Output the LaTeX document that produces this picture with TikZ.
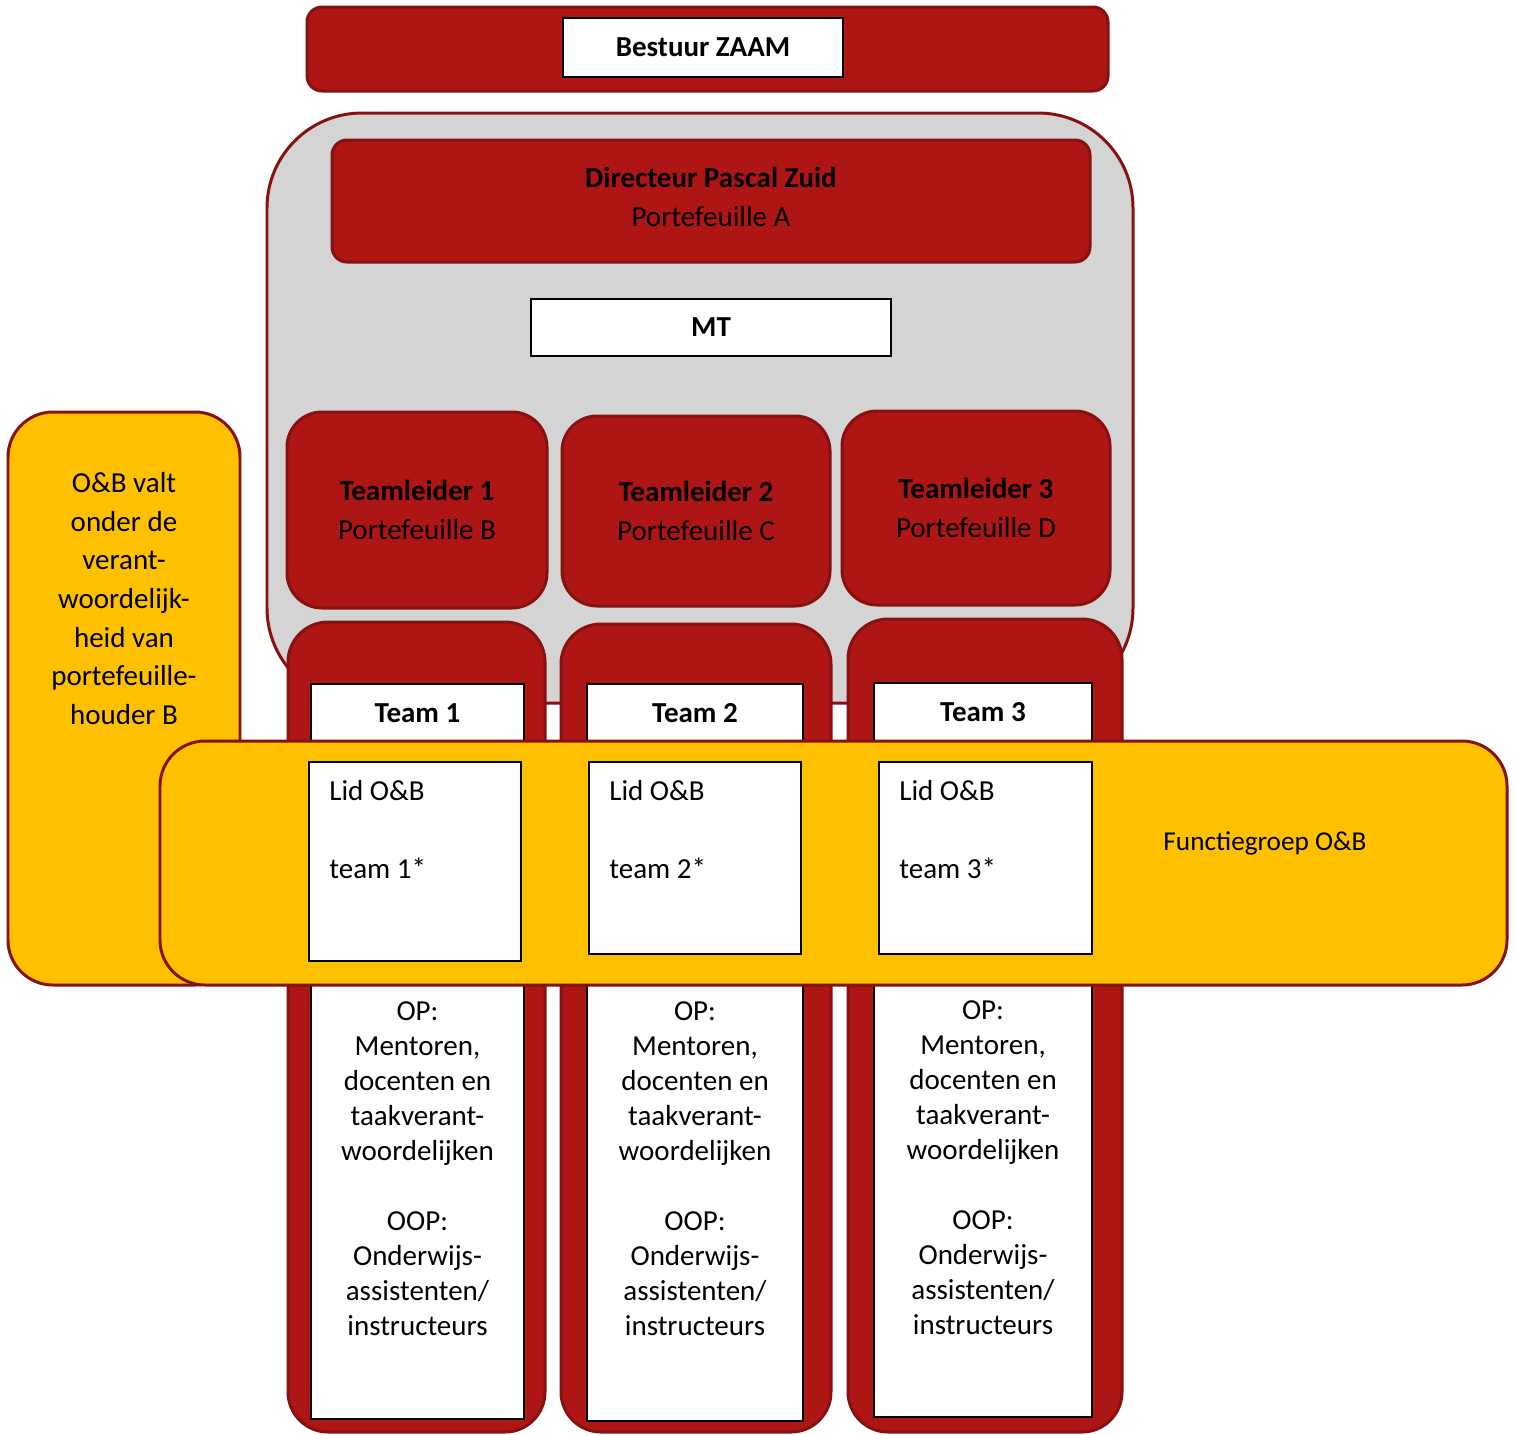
\documentclass[tikz,border=0pt]{standalone}
\usepackage{fontspec}
\setmainfont{Carlito}
\usetikzlibrary{positioning}

\definecolor{zaamred}{RGB}{174,21,21}
\definecolor{zaamdark}{RGB}{135,17,17}
\definecolor{zaamgold}{RGB}{255,192,0}
\definecolor{zaamgrey}{RGB}{212,212,212}

\tikzset{
  every node/.style={font=\fontsize{16.5pt}{22pt}\selectfont, inner sep=0pt, align=center},
  redbox/.style={draw=zaamdark, line width=1.7pt, fill=zaamred, rounded corners=0.3cm},
  goldbox/.style={draw=zaamdark, line width=1.7pt, fill=zaamgold, rounded corners=0.9cm},
  whitebox/.style={draw=black, line width=1.1pt, fill=white},
  leader/.style={redbox, rounded corners=0.7cm},
  column/.style={redbox, rounded corners=0.8cm},
  listtext/.style={font=\fontsize{16.5pt}{19.9pt}\selectfont},
  lidtext/.style={align=left, anchor=north west, font=\fontsize{16.5pt}{19.3pt}\selectfont},
}

\begin{document}
\begin{tikzpicture}
  \useasboundingbox (0,0) rectangle (30.32,-28.68);

  %Define nodes
  \node[redbox, minimum width=16.02cm, minimum height=1.68cm] (bestuurbg) at (14.15,-0.98) {};
  \node[whitebox, minimum width=5.6cm, minimum height=1.18cm] (bestuur) at (14.06,-0.95) {\textbf{Bestuur ZAAM}};

  \node[draw=zaamdark, line width=1.7pt, fill=zaamgrey, rounded corners=1.9cm,
        minimum width=17.32cm, minimum height=11.8cm] (mtbg) at (14.0,-8.16) {};
  \node[redbox, minimum width=15.16cm, minimum height=2.44cm] (dir) at (14.22,-4.02) {};
  \node (dirtext) at (14.22,-3.94) {\textbf{Directeur Pascal Zuid}\\Portefeuille A};
  \node[whitebox, minimum width=7.2cm, minimum height=1.14cm] (mt) at (14.22,-6.55) {\textbf{MT}};

  \node[leader, minimum width=5.2cm, minimum height=3.92cm] (tl1) at (8.34,-10.2)
    {\textbf{Teamleider 1}\\Portefeuille B};
  \node[leader, minimum width=5.36cm, minimum height=3.8cm] (tl2) at (13.92,-10.22)
    {\textbf{Teamleider 2}\\Portefeuille C};
  \node[leader, minimum width=5.36cm, minimum height=3.88cm] (tl3) at (19.52,-10.16)
    {\textbf{Teamleider 3}\\Portefeuille D};

  \node[goldbox, minimum width=4.64cm, minimum height=11.46cm] (obleft) at (2.48,-13.97) {};
  \node (obtext) at (2.48,-11.97)
    {O\&B valt\\onder de\\verant-\\woordelijk-\\heid van\\portefeuille-\\houder B};

  % Team columns
  \node[column, minimum width=5.14cm, minimum height=16.2cm] (col1) at (8.33,-20.54) {};
  \node[column, minimum width=5.4cm, minimum height=16.16cm] (col2) at (13.92,-20.56) {};
  \node[column, minimum width=5.48cm, minimum height=16.26cm] (col3) at (19.7,-20.51) {};

  \node[whitebox, minimum width=4.26cm, minimum height=14.7cm] (team1) at (8.35,-21.03) {};
  \node[whitebox, minimum width=4.32cm, minimum height=14.74cm] (team2) at (13.9,-21.05) {};
  \node[whitebox, minimum width=4.36cm, minimum height=14.68cm] (team3) at (19.66,-21.0) {};

  \node (title1) at (8.35,-14.26) {\textbf{Team 1}};
  \node (title2) at (13.9,-14.26) {\textbf{Team 2}};
  \node (title3) at (19.66,-14.24) {\textbf{Team 3}};

  \node[listtext] (staff1) at (8.35,-23.38)
    {OP:\\Mentoren,\\docenten en\\taakverant-\\woordelijken\\[19.9pt]OOP:\\Onderwijs-\\assistenten/\\instructeurs};
  \node[listtext] (staff2) at (13.9,-23.38)
    {OP:\\Mentoren,\\docenten en\\taakverant-\\woordelijken\\[19.9pt]OOP:\\Onderwijs-\\assistenten/\\instructeurs};
  \node[listtext] (staff3) at (19.66,-23.36)
    {OP:\\Mentoren,\\docenten en\\taakverant-\\woordelijken\\[19.9pt]OOP:\\Onderwijs-\\assistenten/\\instructeurs};

  % Functiegroep band
  \node[goldbox, minimum width=26.94cm, minimum height=4.88cm] (band) at (16.67,-17.26) {};
  \node[font=\fontsize{15.5pt}{19pt}\selectfont] (fgroep) at (25.3,-16.87) {Functiegroep O\&B};

  \node[whitebox, minimum width=4.24cm, minimum height=3.98cm] (lid1) at (8.3,-17.23) {};
  \node[whitebox, minimum width=4.24cm, minimum height=3.84cm] (lid2) at (13.9,-17.16) {};
  \node[whitebox, minimum width=4.26cm, minimum height=3.84cm] (lid3) at (19.71,-17.16) {};

  \node[lidtext] (lidt1) at ([xshift=0.42cm, yshift=-0.38cm]lid1.north west) {Lid O\&B\\[25pt]team 1*};
  \node[lidtext] (lidt2) at ([xshift=0.42cm, yshift=-0.38cm]lid2.north west) {Lid O\&B\\[25pt]team 2*};
  \node[lidtext] (lidt3) at ([xshift=0.42cm, yshift=-0.38cm]lid3.north west) {Lid O\&B\\[25pt]team 3*};

\end{tikzpicture}
\end{document}
